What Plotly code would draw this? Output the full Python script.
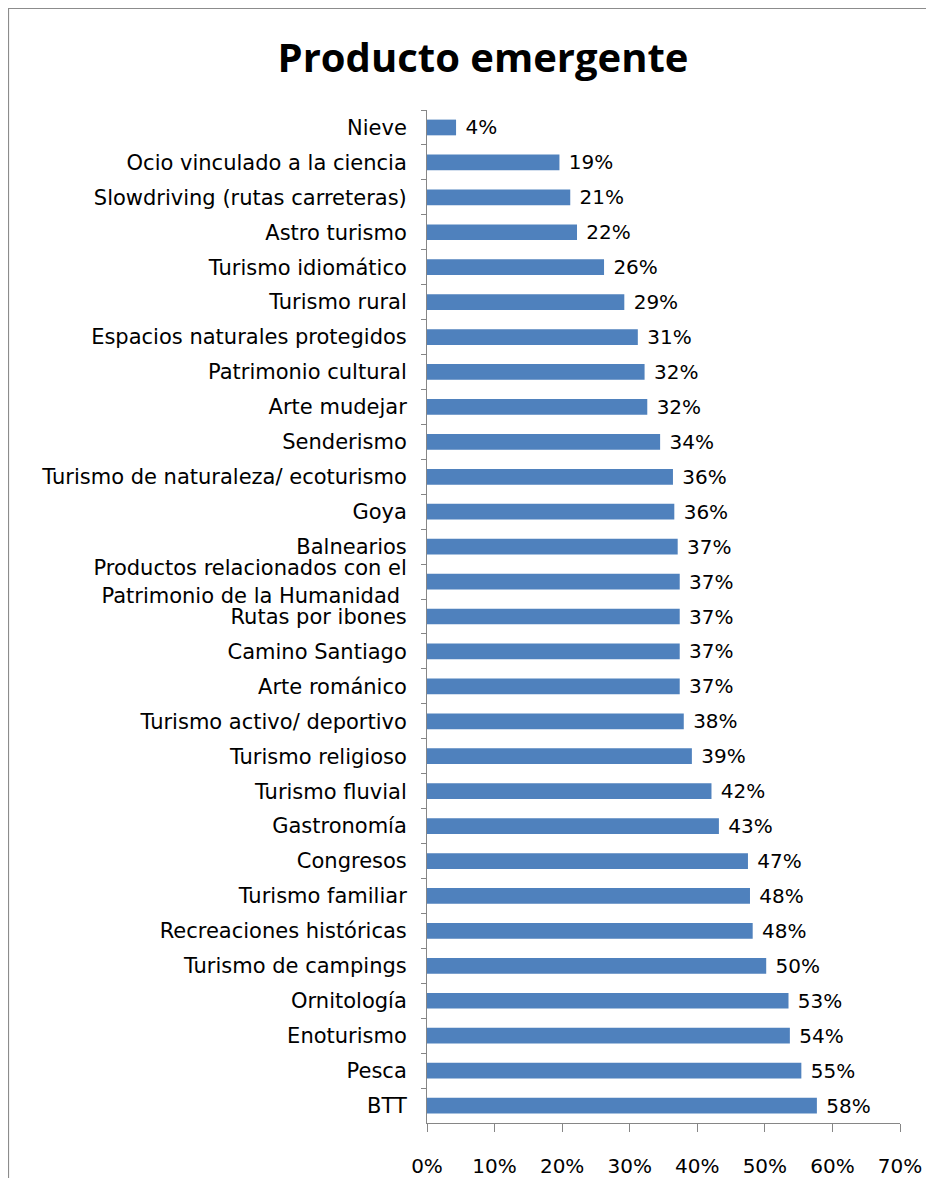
import plotly.graph_objects as go

categories = [
    "Nieve", "Ocio vinculado a la ciencia", "Slowdriving (rutas carreteras)",
    "Astro turismo", "Turismo idiomático", "Turismo rural",
    "Espacios naturales protegidos", "Patrimonio cultural", "Arte mudejar",
    "Senderismo", "Turismo de naturaleza/ ecoturismo", "Goya", "Balnearios",
    "Productos relacionados con el<br>Patrimonio de la Humanidad ",
    "Rutas por ibones", "Camino Santiago", "Arte románico",
    "Turismo activo/ deportivo", "Turismo religioso", "Turismo fluvial",
    "Gastronomía", "Congresos", "Turismo familiar", "Recreaciones históricas",
    "Turismo de campings", "Ornitología", "Enoturismo", "Pesca", "BTT",
]
values = [
    0.043, 0.196, 0.212, 0.222, 0.262, 0.292, 0.312, 0.322, 0.326,
    0.345, 0.364, 0.366, 0.371, 0.374, 0.374, 0.374, 0.374, 0.380,
    0.392, 0.421, 0.432, 0.475, 0.478, 0.482, 0.502, 0.535, 0.537,
    0.554, 0.577,
]
value_labels = [
    "4%", "19%", "21%", "22%", "26%", "29%", "31%", "32%", "32%", "34%",
    "36%", "36%", "37%", "37%", "37%", "37%", "37%", "38%", "39%", "42%",
    "43%", "47%", "48%", "48%", "50%", "53%", "54%", "55%", "58%",
]
x_ticks = [0, 0.1, 0.2, 0.3, 0.4, 0.5, 0.6, 0.7]
x_tick_labels = ["0%", "10%", "20%", "30%", "40%", "50%", "60%", "70%"]

FONT = "DejaVu Sans"
TITLE_FONT = "Open Sans"
AXIS_COLOR = "#868686"

fig = go.Figure(
    go.Bar(
        x=values,
        y=categories,
        orientation="h",
        marker=dict(color="#4F81BD", line=dict(width=0)),
        text=value_labels,
        texttemplate=" %{text}",
        textposition="outside",
        constraintext="none",
        cliponaxis=False,
        textfont=dict(family=FONT, size=20, color="black"),
        hoverinfo="x+y",
    )
)

fig.update_layout(
    width=926,
    height=1170,
    paper_bgcolor="white",
    plot_bgcolor="white",
    margin=dict(l=419, r=34, t=102, b=55, autoexpand=False),
    bargap=0.55,
    showlegend=False,
    title=dict(
        text="<b>Producto emergente</b>",
        x=0.513, xanchor="center",
        y=0.957, yanchor="middle",
        font=dict(family=TITLE_FONT, size=40, color="black"),
    ),
    font=dict(family=FONT, size=20, color="black"),
    shapes=[
        dict(
            type="rect", xref="paper", yref="paper",
            x0=(0.5 - 419) / 473, x1=2.0,
            y0=-1.0, y1=1 + (102 - 0.5) / 1013,
            line=dict(color="#8c8c8c", width=1.2),
            fillcolor="rgba(0,0,0,0)", layer="below",
        )
    ],
)

fig.update_xaxes(
    range=[0, 0.7],
    tickvals=x_ticks,
    ticktext=x_tick_labels,
    showgrid=False,
    zeroline=False,
    showline=True,
    linecolor=AXIS_COLOR,
    linewidth=1,
    ticks="outside",
    ticklen=8,
    tickcolor=AXIS_COLOR,
    ticklabelstandoff=17,
    automargin=False,
    tickfont=dict(family=FONT, size=20, color="black"),
)
fig.update_yaxes(
    autorange="reversed",
    showgrid=False,
    showline=True,
    linecolor=AXIS_COLOR,
    linewidth=1,
    ticks="outside",
    tickson="boundaries",
    ticklen=5,
    tickcolor=AXIS_COLOR,
    ticklabelstandoff=15,
    automargin=False,
    tickfont=dict(family=FONT, size=21, color="black"),
)

fig.write_html("out.html")
